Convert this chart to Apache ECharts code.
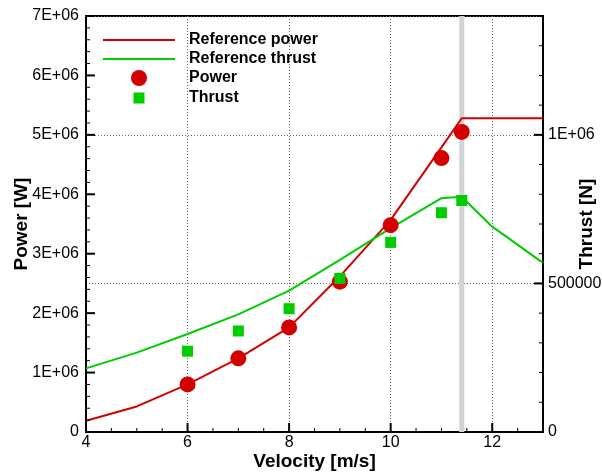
<!DOCTYPE html>
<html>
<head>
<meta charset="utf-8">
<script src="https://cdn.jsdelivr.net/npm/echarts@6/dist/echarts.min.js"></script>
<style>
html,body{margin:0;padding:0;background:#fff;}
#chart{width:602px;height:474px;}
</style>
</head>
<body>
<div id="chart"></div>
<script>
// ---- data ----
const velocityRef = [4, 5, 6, 7, 8, 9, 10, 11, 11.4, 12, 13];
const refPower = [0.19e6, 0.43e6, 0.80e6, 1.24e6, 1.76e6, 2.62e6, 3.57e6, 4.79e6, 5.28e6, 5.28e6, 5.28e6];
const refThrust = [214e3, 267e3, 330e3, 396e3, 476e3, 579e3, 686e3, 787e3, 792e3, 691e3, 569e3];
const velocitySim = [6, 7, 8, 9, 10, 11, 11.4];
const powerSim = [0.80e6, 1.24e6, 1.76e6, 2.53e6, 3.48e6, 4.61e6, 5.05e6];
const thrustSim = [272e3, 340e3, 415e3, 517e3, 638e3, 738e3, 779e3];
const ratedVelocity = 11.4;
const xTickLabels = ['4', '6', '8', '10', '12'];
const powerTickLabels = ['0', '1E+06', '2E+06', '3E+06', '4E+06', '5E+06', '6E+06', '7E+06'];
const thrustTickLabels = ['0', '500000', '1E+06'];
const seriesNames = ['Reference power', 'Reference thrust', 'Power', 'Thrust'];

// tick positions (major every label step, minor between)
const xMajorTicks = [4, 6, 8, 10, 12];
const xMinorStep = 0.5;
const powerMajorTicks = [0, 1e6, 2e6, 3e6, 4e6, 5e6, 6e6, 7e6];
const powerMinorStep = 0.2e6;
const thrustMajorTicks = [0, 5e5, 1e6];
const thrustMinorStep = 1e5;

const zip = (xs, ys) => xs.map((x, i) => [x, ys[i]]);
const FONT = '"Liberation Sans", Arial, Helvetica, sans-serif';
const RED = '#d40000';
const GREEN = '#00cc00';

const labelStyle = {color: '#000', fontSize: 16, fontFamily: FONT};
const nameStyle = {color: '#000', fontSize: 19, fontWeight: 'bold', fontFamily: FONT};
const legendText = {fill: '#000', fontSize: 16, fontWeight: 'bold', fontFamily: FONT, verticalAlign: 'middle', align: 'left'};

function tickList(majors, step, lo, hi) {
  const out = [];
  const n = Math.round((hi - lo) / step);
  for (let i = 0; i <= n; i++) {
    const v = lo + i * step;
    const isMajor = majors.some(m => Math.abs(m - v) < step * 1e-3);
    out.push([v, isMajor ? 1 : 0]);
  }
  return out;
}
const xTickData = tickList(xMajorTicks, xMinorStep, 4, 13);
const powerTickData = tickList(powerMajorTicks, powerMinorStep, 0, 7e6);
const thrustTickData = tickList(thrustMajorTicks, thrustMinorStep, 0, 1.4e6);

function tickSeries(kind, data, yIdx) {
  return {
    type: 'custom', xAxisIndex: 0, yAxisIndex: yIdx, z: 6, silent: true, clip: false,
    data: data,
    renderItem: function (params, api) {
      const v = api.value(0);
      const major = api.value(1) === 1;
      const len = major ? 9 : 4;
      let p, shape;
      if (kind === 'x') {
        p = api.coord([v, 0]);
        shape = {x1: p[0], y1: p[1], x2: p[0], y2: p[1] - len};
      } else if (kind === 'left') {
        p = api.coord([4, v]);
        shape = {x1: p[0], y1: p[1], x2: p[0] + len, y2: p[1]};
      } else {
        p = api.coord([13, v]);
        shape = {x1: p[0], y1: p[1], x2: p[0] - len, y2: p[1]};
      }
      return {type: 'line', shape: shape, style: {stroke: '#000', lineWidth: major ? 2 : 1}};
    }
  };
}

const chart = echarts.init(document.getElementById('chart'), null, {renderer: 'canvas'});

// legend drawn as graphic elements (icons + real text)
const legendRows = [40, 59, 78, 98];
const legendGraphic = [
  {type: 'line', shape: {x1: 103, y1: legendRows[0], x2: 175, y2: legendRows[0]}, style: {stroke: RED, lineWidth: 2}},
  {type: 'line', shape: {x1: 103, y1: legendRows[1], x2: 175, y2: legendRows[1]}, style: {stroke: GREEN, lineWidth: 2}},
  {type: 'circle', shape: {cx: 139, cy: legendRows[2], r: 8}, style: {fill: RED}},
  {type: 'rect', shape: {x: 133.5, y: legendRows[3] - 5.5, width: 11, height: 11}, style: {fill: GREEN}}
].concat(seriesNames.map((n, i) => ({type: 'text', x: 189, y: legendRows[i], style: Object.assign({text: n}, legendText)})));

const gridDots = {show: true, lineStyle: {color: '#666', width: 1, type: [1, 2]}};

const option = {
  animation: false,
  backgroundColor: '#fff',
  grid: {left: 86, right: 59, top: 16, bottom: 42, outerBoundsMode: 'none', containLabel: false,
    show: true, borderColor: '#000', borderWidth: 2},
  graphic: legendGraphic.map(g => Object.assign({z: 100}, g)),
  xAxis: [
    {
      type: 'value', min: 4, max: 13, interval: 2, position: 'bottom',
      name: 'Velocity [m/s]', nameLocation: 'middle', nameGap: 20, nameMoveOverlap: false, nameTextStyle: nameStyle,
      axisLine: {show: true, onZero: false, lineStyle: {color: '#000', width: 2}},
      axisTick: {show: false},
      axisLabel: {show: true, showMaxLabel: false, margin: 3, hideOverlap: false, ...labelStyle,
        formatter: v => { const i = (v - 4) / 2; return Number.isInteger(i) && xTickLabels[i] ? xTickLabels[i] : ''; }},
      splitLine: gridDots
    }
  ],
  yAxis: [
    {
      type: 'value', min: 0, max: 7e6, interval: 1e6, position: 'left',
      name: 'Power [W]', nameLocation: 'middle', nameGap: 55, nameMoveOverlap: false, nameTextStyle: nameStyle,
      axisLine: {show: true, onZero: false, lineStyle: {color: '#000', width: 2}},
      axisTick: {show: false},
      axisLabel: {show: true, margin: 7, ...labelStyle,
        formatter: v => powerTickLabels[Math.round(v / 1e6)] || ''},
      splitLine: {show: false}
    },
    {
      type: 'value', min: 0, max: 1.4e6, interval: 5e5, position: 'right',
      name: 'Thrust [N]', nameLocation: 'middle', nameGap: 34, nameMoveOverlap: false, nameTextStyle: nameStyle,
      axisLine: {show: true, onZero: false, lineStyle: {color: '#000', width: 2}},
      axisTick: {show: false},
      axisLabel: {show: true, showMaxLabel: false, margin: 5, ...labelStyle,
        formatter: v => { const i = v / 5e5; return Number.isInteger(i) && thrustTickLabels[i] ? thrustTickLabels[i] : ''; }},
      splitLine: gridDots
    }
  ],
  series: [
    {
      name: 'rated', type: 'line', xAxisIndex: 0, yAxisIndex: 0, z: 1, silent: true,
      symbol: 'none', lineStyle: {color: '#d3d3d3', width: 5},
      data: [[ratedVelocity, 0], [ratedVelocity, 7e6]]
    },
    {
      name: seriesNames[0], type: 'line', xAxisIndex: 0, yAxisIndex: 0, z: 3,
      symbol: 'none', color: RED, lineStyle: {color: RED, width: 2},
      data: zip(velocityRef, refPower)
    },
    {
      name: seriesNames[1], type: 'line', xAxisIndex: 0, yAxisIndex: 1, z: 3,
      symbol: 'none', color: GREEN, lineStyle: {color: GREEN, width: 2},
      data: zip(velocityRef, refThrust)
    },
    {
      name: seriesNames[2], type: 'scatter', xAxisIndex: 0, yAxisIndex: 0, z: 4,
      symbol: 'circle', symbolSize: 16, itemStyle: {color: RED, opacity: 1},
      data: zip(velocitySim, powerSim)
    },
    {
      name: seriesNames[3], type: 'scatter', xAxisIndex: 0, yAxisIndex: 1, z: 4,
      symbol: 'rect', symbolSize: 11, itemStyle: {color: GREEN, opacity: 1},
      data: zip(velocitySim, thrustSim)
    },
    tickSeries('x', xTickData, 0),
    tickSeries('left', powerTickData, 0),
    tickSeries('right', thrustTickData, 1)
  ]
};
chart.setOption(option);
</script>
</body>
</html>
